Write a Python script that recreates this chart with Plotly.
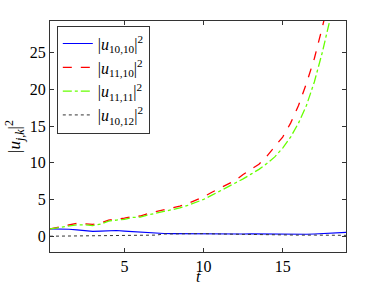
import plotly.graph_objects as go

t_blue = [0.3, 1, 1.5, 2, 2.5, 3, 3.5, 4, 4.5, 5, 5.5, 6, 6.5, 7, 7.5, 8, 8.5, 9, 9.5, 10,
          10.5, 11, 11.5, 12, 12.5, 13, 13.5, 14, 14.5, 15, 15.5, 16, 16.5, 17, 17.5, 18, 18.5, 19]
u_10_10 = [1.0, 1.0, 0.95, 0.85, 0.72, 0.65, 0.7, 0.78, 0.78, 0.7, 0.62, 0.58, 0.55, 0.45, 0.37,
           0.36, 0.35, 0.32, 0.3, 0.28, 0.32, 0.35, 0.33, 0.3, 0.3, 0.32, 0.3, 0.28, 0.27, 0.27,
           0.25, 0.25, 0.27, 0.3, 0.33, 0.38, 0.45, 0.52]

t_red = [0.3, 1, 1.5, 2, 2.5, 3, 3.5, 4, 4.5, 5, 5.5, 6, 6.5, 7, 7.5, 8, 8.5, 9, 9.5, 10,
         10.5, 11, 11.5, 12, 12.5, 13, 13.5, 14, 14.5, 15, 15.5, 16, 16.5, 17, 17.5, 18]
u_11_10 = [1.0, 1.3, 1.55, 1.75, 1.7, 1.6, 1.8, 2.2, 2.35, 2.45, 2.7, 2.75, 3.1, 3.35, 3.5, 3.8,
           4.1, 4.45, 4.85, 5.35, 5.95, 6.5, 7.0, 7.6, 8.4, 9.1, 9.8, 10.9, 12.2, 13.5, 15.4,
           17.8, 20.8, 24.2, 28.4, 33.0]

t_green = [0.3, 1, 1.5, 2, 2.5, 3, 3.5, 4, 4.5, 5, 5.5, 6, 6.5, 7, 7.5, 8, 8.5, 9, 9.5, 10,
           10.5, 11, 11.5, 12, 12.5, 13, 13.5, 14, 14.5, 15, 15.5, 16, 16.5, 17, 17.5, 18, 18.5]
u_11_11 = [1.0, 1.2, 1.4, 1.55, 1.55, 1.45, 1.65, 2.05, 2.2, 2.3, 2.55, 2.6, 2.9, 3.15, 3.3,
           3.55, 3.85, 4.2, 4.55, 5.0, 5.55, 6.1, 6.6, 7.15, 7.8, 8.45, 9.1, 9.9, 10.8, 12.0,
           13.5, 15.4, 17.8, 21.0, 25.0, 29.6, 34.5]

t_black = [0.3, 1, 2, 3, 4, 5, 6, 7, 7.5, 8, 9, 10, 11, 12, 13, 14, 15, 16, 17, 18, 19]
u_10_12 = [0.0, 0.02, 0.03, 0.05, 0.07, 0.1, 0.12, 0.15, 0.3, 0.32, 0.3, 0.35, 0.3, 0.25, 0.22,
           0.2, 0.18, 0.15, 0.15, 0.12, 0.12]

x_ticks = [5, 10, 15]
y_ticks = [0, 5, 10, 15, 20, 25]

serif = "Liberation Serif"

fig = go.Figure()
fig.add_trace(go.Scatter(x=t_blue, y=u_10_10, mode="lines",
                         line=dict(color="#0000ff", width=1.2),
                         name="|<i>u</i><sub>10,10</sub>|<sup>2</sup>"))
fig.add_trace(go.Scatter(x=t_red, y=u_11_10, mode="lines",
                         line=dict(color="#ff0000", width=1.3, dash="dash"),
                         name="|<i>u</i><sub>11,10</sub>|<sup>2</sup>"))
fig.add_trace(go.Scatter(x=t_green, y=u_11_11, mode="lines",
                         line=dict(color="#66ff00", width=1.3, dash="dashdot"),
                         name="|<i>u</i><sub>11,11</sub>|<sup>2</sup>"))
fig.add_trace(go.Scatter(x=t_black, y=u_10_12, mode="lines",
                         line=dict(color="#333333", width=1, dash="dot"),
                         name="|<i>u</i><sub>10,12</sub>|<sup>2</sup>"))

axis_common = dict(showline=True, linecolor="#333333", linewidth=1, mirror="ticks",
                   ticks="inside", ticklen=4, tickcolor="#333333", showgrid=False,
                   zeroline=False, tickfont=dict(family=serif, size=16, color="black"))

fig.update_layout(
    width=382, height=287,
    margin=dict(l=50, r=36, t=21, b=32),
    paper_bgcolor="white", plot_bgcolor="white",
    xaxis=dict(range=[0.3, 19], tickvals=x_ticks, ticktext=[str(v) for v in x_ticks],
               **axis_common),
    yaxis=dict(range=[-2.15, 29.3], tickvals=y_ticks, ticktext=[str(v) for v in y_ticks],
               title=dict(text="|<i>u</i><sub><i>j,k</i></sub>|<sup>2</sup>",
                          font=dict(family=serif, size=17, color="black"), standoff=4),
               **axis_common),
    legend=dict(x=0.023, y=0.98, xanchor="left", yanchor="top",
                bgcolor="white", bordercolor="#333333", borderwidth=1,
                font=dict(family=serif, size=16, color="black"),
                itemwidth=30, tracegroupgap=0),
    showlegend=True,
    annotations=[dict(text="<i>t</i>", xref="paper", yref="paper", x=0.5, y=-0.108,
                      xanchor="center", yanchor="middle", showarrow=False,
                      font=dict(family=serif, size=16, color="black"))],
)

fig.write_html("out.html", config={"displayModeBar": False},
               post_script="document.body.style.margin='0';document.body.style.padding='0';")
